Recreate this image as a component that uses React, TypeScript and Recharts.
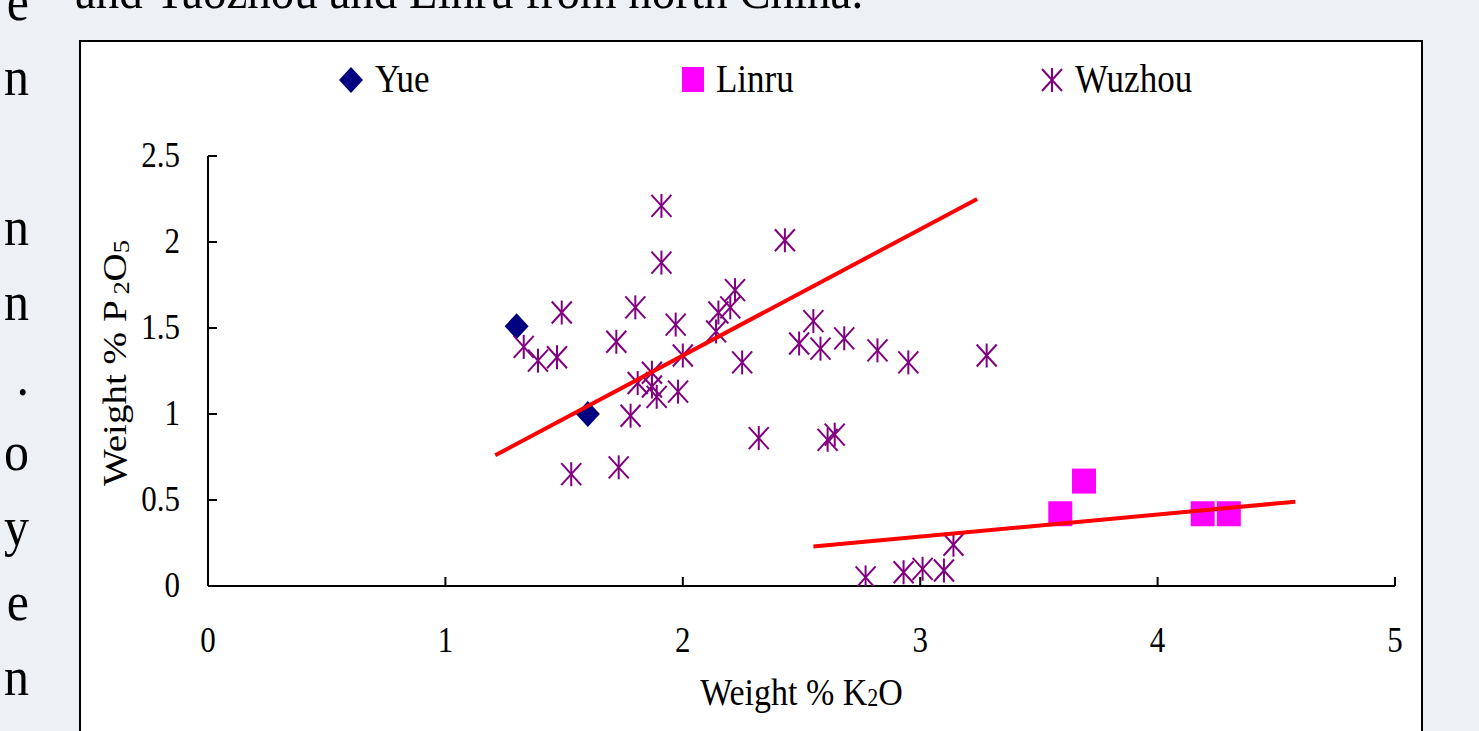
import React from 'react';
import { ScatterChart, Scatter, XAxis, YAxis, Legend } from 'recharts';

// ---- data ----
const seriesNames = ['Yue', 'Linru', 'Wuzhou'];

const yueK2O = [1.30, 1.60];
const yueP2O5 = [1.51, 1.00];

const linruK2O = [3.59, 3.69, 4.19, 4.30];
const linruP2O5 = [0.42, 0.61, 0.42, 0.42];

const wuzhouK2O = [
  1.91, 1.91, 2.43, 1.49, 1.80, 2.22, 2.20, 2.15, 2.14, 1.97,
  1.72, 1.33, 1.39, 1.47, 2.00, 2.25, 1.87, 1.81, 1.87, 1.89,
  1.98, 1.78, 2.32, 1.53, 1.73, 2.55, 2.49, 2.58, 2.68, 2.82,
  2.95, 3.28, 2.61, 2.64, 3.14, 2.77, 2.93, 3.01, 3.10,
];
const wuzhouP2O5 = [
  2.21, 1.88, 2.01, 1.59, 1.62, 1.72, 1.62, 1.59, 1.48, 1.52,
  1.42, 1.39, 1.31, 1.33, 1.34, 1.30, 1.24, 1.18, 1.16, 1.10,
  1.13, 0.99, 0.86, 0.65, 0.69, 1.54, 1.41, 1.38, 1.44, 1.37,
  1.30, 1.34, 0.85, 0.88, 0.24, 0.05, 0.08, 0.10, 0.09,
];

// trend lines (end points)
const trendNorthK2O = [1.21, 3.24];
const trendNorthP2O5 = [0.76, 2.25];
const trendLinruK2O = [2.55, 4.58];
const trendLinruP2O5 = [0.23, 0.49];

const xTicks = [0, 1, 2, 3, 4, 5];
const yTicks = [0, 0.5, 1, 1.5, 2, 2.5];

// page text surrounding the figure
const topText = 'and Yaozhou and Linru from north China.';
const leftChars = ['e', 'n', '', 'n', 'n', '.', 'o', 'y', 'e', 'n'];

const toPoints = (xs: number[], ys: number[]) => xs.map((x, i) => ({ x, y: ys[i] }));

const yueData = toPoints(yueK2O, yueP2O5);
const linruData = toPoints(linruK2O, linruP2O5);
const wuzhouData = toPoints(wuzhouK2O, wuzhouP2O5);
const trendNorth = toPoints(trendNorthK2O, trendNorthP2O5);
const trendLinru = toPoints(trendLinruK2O, trendLinruP2O5);

const FONT = '"Liberation Serif", "Times New Roman", serif';
const NAVY = '#000080';
const MAGENTA = '#ff00ff';
const PURPLE = '#800080';

// ---- marker shapes ----
const diamondPath = (cx: number, cy: number) =>
  `${cx},${cy - 13} ${cx + 12},${cy} ${cx},${cy + 13} ${cx - 12},${cy}`;

const DiamondShape = (p: any) => <polygon points={diamondPath(p.cx, p.cy)} fill={NAVY} />;
const SquareShape = (p: any) => (
  <rect x={p.cx - 12} y={p.cy - 12.5} width={24} height={25} fill={MAGENTA} />
);
const StarMark = ({ cx, cy }: { cx: number; cy: number }) => (
  <g stroke={PURPLE} strokeWidth={2} fill="none">
    <line x1={cx} y1={cy - 12} x2={cx} y2={cy + 12} />
    <line x1={cx - 10} y1={cy - 11} x2={cx + 10} y2={cy + 11} />
    <line x1={cx + 10} y1={cy - 11} x2={cx - 10} y2={cy + 11} />
  </g>
);
const StarShape = (p: any) => <StarMark cx={p.cx} cy={p.cy} />;
const NoShape = () => <g />;

// ---- axes ----
const XTick = (p: any) => {
  const { x, y, payload } = p;
  return (
    <g>
      <line x1={x} y1={y} x2={x} y2={y - 9} stroke="#000" strokeWidth={2} />
      <g transform={`translate(${x},${y + 66}) scale(1,1.15)`}>
        <text x={0} y={0} textAnchor="middle" fontSize={31} fontFamily={FONT} fill="#000">
          {payload.value}
        </text>
      </g>
    </g>
  );
};

const YTick = (p: any) => {
  const { x, y, payload } = p;
  return (
    <g>
      <line x1={x} y1={y} x2={x + 9} y2={y} stroke="#000" strokeWidth={2} />
      <g transform={`translate(${x - 28},${y + 11}) scale(1,1.15)`}>
        <text x={0} y={0} textAnchor="end" fontSize={31} fontFamily={FONT} fill="#000">
          {payload.value}
        </text>
      </g>
    </g>
  );
};

const XTitle = (p: any) => {
  const vb = p.viewBox || { x: 208, y: 586, width: 1187, height: 60 };
  const cx = vb.x + vb.width / 2;
  return (
    <g transform={`translate(${cx},${vb.y + 119}) scale(1,1.1)`}>
      <text x={0} y={0} textAnchor="middle" fontSize={34} fontFamily={FONT} fill="#000">
        Weight % K
        <tspan fontSize={22} dy={1}>2</tspan>
        <tspan dy={-1}>O</tspan>
      </text>
    </g>
  );
};

const YTitle = (p: any) => {
  const vb = p.viewBox || { x: 108, y: 156, width: 100, height: 430 };
  const cx = vb.x + 8;
  const cy = vb.y + vb.height / 2 - 8;
  return (
    <g transform={`translate(${cx},${cy}) rotate(-90) scale(1.15,1)`}>
      <text x={0} y={10} textAnchor="middle" fontSize={34} fontFamily={FONT} fill="#000">
        Weight % P
        <tspan fontSize={23} dx={5} dy={3}>2</tspan>
        <tspan dy={-3}>O</tspan>
        <tspan fontSize={23} dy={3}>5</tspan>
      </text>
    </g>
  );
};

// ---- legend ----
const legendIconX = [351, 693, 1052];
const legendTextX = [375, 716, 1075];

const LegendContent = (props: any) => {
  const items = (props.payload || []).filter((e: any) => seriesNames.includes(e.value));
  return (
    <svg width={1479} height={130} style={{ display: 'block' }}>
      {items.map((e: any) => {
        const i = seriesNames.indexOf(e.value);
        const ix = legendIconX[i];
        const iy = 80;
        let icon;
        if (e.value === 'Yue') icon = <polygon points={diamondPath(ix, iy)} fill={NAVY} />;
        else if (e.value === 'Linru')
          icon = <rect x={ix - 11} y={iy - 13} width={22} height={25} fill={MAGENTA} />;
        else icon = <StarMark cx={ix} cy={iy} />;
        return (
          <g key={e.value}>
            {icon}
            <g transform={`translate(${legendTextX[i]},92) scale(1,1.15)`}>
              <text x={0} y={0} fontSize={35} fontFamily={FONT} fill="#000">
                {e.value}
              </text>
            </g>
          </g>
        );
      })}
    </svg>
  );
};

export default function App() {
  return (
    <div
      style={{
        position: 'fixed',
        left: 0,
        top: 0,
        width: 1479,
        height: 731,
        background: '#edf0f5',
        overflow: 'hidden',
        fontFamily: FONT,
      }}
    >
      {/* surrounding page text */}
      <svg width={1479} height={731} style={{ position: 'absolute', left: 0, top: 0 }}>
        <g transform="translate(75,8) scale(1,1.1)">
          <text x={0} y={0} fontSize={47} fontFamily={FONT} fill="#000">
            {topText}
          </text>
        </g>
        {leftChars.map((c, i) => (
          <g key={i} transform={`translate(29,${20 + i * 75}) scale(1,1.1)`}>
            <text x={0} y={0} textAnchor="end" fontSize={50} fontFamily={FONT} fill="#000">
              {c}
            </text>
          </g>
        ))}
      </svg>

      {/* chart frame */}
      <div
        style={{
          position: 'absolute',
          left: 79,
          top: 40,
          width: 1344,
          height: 760,
          background: '#ffffff',
          border: '2px solid #000',
          boxSizing: 'border-box',
        }}
      />

      <div style={{ position: 'absolute', left: 0, top: 0, width: 1479, height: 731 }}>
        <ScatterChart
          width={1479}
          height={731}
          margin={{ top: 156, right: 84, bottom: 85, left: 108 }}
        >
          <XAxis
            type="number"
            dataKey="x"
            domain={[0, 5]}
            ticks={xTicks}
            interval={0}
            height={60}
            tickSize={0}
            tickMargin={0}
            tickLine={false}
            axisLine={{ stroke: '#000', strokeWidth: 2 }}
            tick={<XTick />}
            allowDataOverflow
            label={<XTitle />}
          />
          <YAxis
            type="number"
            dataKey="y"
            domain={[0, 2.5]}
            ticks={yTicks}
            interval={0}
            width={100}
            tickSize={0}
            tickMargin={0}
            tickLine={false}
            axisLine={{ stroke: '#000', strokeWidth: 2 }}
            tick={<YTick />}
            allowDataOverflow
            label={<YTitle />}
          />
          <Legend
            layout="horizontal"
            verticalAlign="middle"
            align="center"
            content={<LegendContent />}
            wrapperStyle={{ position: 'absolute', left: 0, top: 0, width: 1479, height: 130 }}
          />
          <Scatter name="Yue" data={yueData} fill={NAVY} shape={DiamondShape} isAnimationActive={false} />
          <Scatter name="Linru" data={linruData} fill={MAGENTA} shape={SquareShape} isAnimationActive={false} />
          <Scatter name="Wuzhou" data={wuzhouData} fill={PURPLE} shape={StarShape} isAnimationActive={false} />
          <Scatter
            name="trendNorth"
            data={trendNorth}
            line={{ stroke: '#ff0000', strokeWidth: 4 }}
            shape={NoShape}
            legendType="none"
            isAnimationActive={false}
          />
          <Scatter
            name="trendLinru"
            data={trendLinru}
            line={{ stroke: '#ff0000', strokeWidth: 4 }}
            shape={NoShape}
            legendType="none"
            isAnimationActive={false}
          />
        </ScatterChart>
      </div>
    </div>
  );
}
